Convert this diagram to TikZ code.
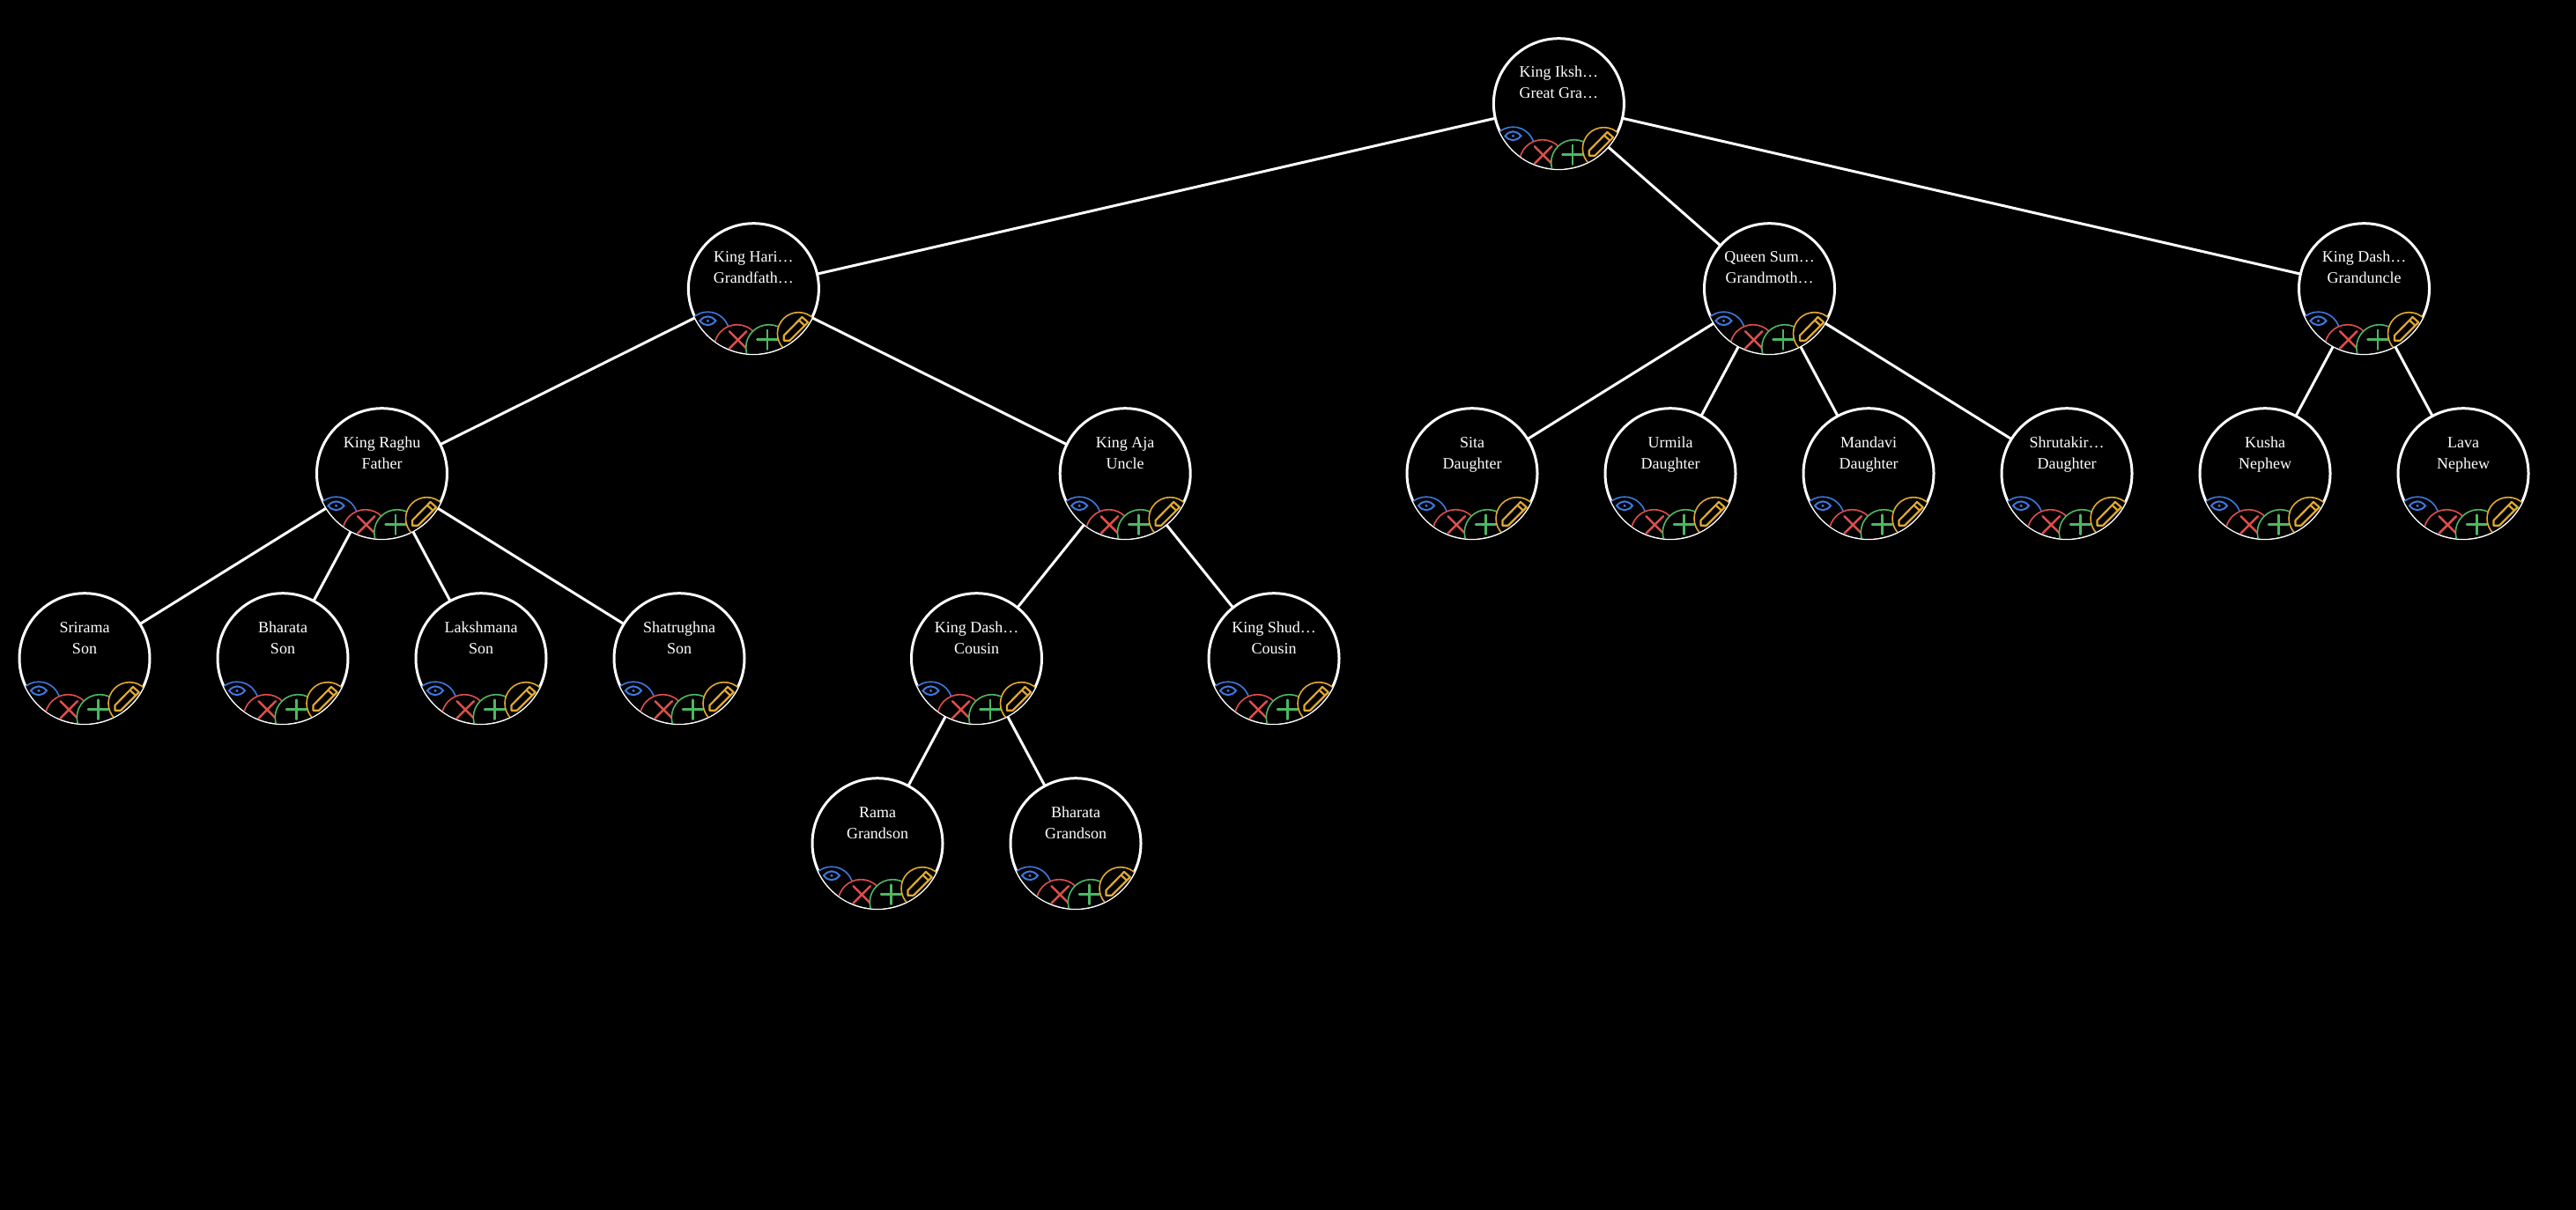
\documentclass[tikz,border=0pt]{standalone}
\usepackage{fontspec}
\setmainfont{Liberation Serif}
\usetikzlibrary{positioning}

\definecolor{eyeblue}{HTML}{3F78E0}
\definecolor{crossred}{HTML}{DE4F4B}
\definecolor{plusgreen}{HTML}{4DB862}
\definecolor{penyellow}{HTML}{E2A92F}

\newcommand{\who}[2]{\strut#1\\\strut#2\\[10.5pt]\strut}

\begin{document}
\begin{tikzpicture}[
    person/.style={circle, draw=white, line width=1.5pt, minimum size=74pt, inner sep=0pt,
                   outer sep=0pt, align=center, text=white,
                   font=\fontsize{9pt}{12pt}\selectfont},
    link/.style={draw=white, line width=1.5pt},
    tab/.style={fill=black, line width=0.8pt},
    glyph/.style={line width=1.25pt, line cap=round},
    actions/.pic={
        \begin{scope}[x=0.5pt, y=-0.5pt]
            \clip (0,0) circle (74);
            % eye
            \draw[tab, draw=eyeblue] (-52,51) circle (24.5);
            \draw[eyeblue, line width=1pt] (-61,36.6) .. controls (-55.5,30) and (-48.5,30) .. (-43,36.6)
                .. controls (-48.5,43.2) and (-55.5,43.2) .. (-61,36.6) -- cycle;
            \fill[eyeblue] (-52,36.6) circle (1.7);
            % cross
            \draw[tab, draw=crossred] (-18.7,67) circle (26);
            \draw[glyph, crossred] (-27.5,48.5) -- (-8,68);
            \draw[glyph, crossred] (-8,48.5) -- (-27.5,68);
            % plus
            \draw[tab, draw=plusgreen] (17.3,67) circle (26);
            \draw[glyph, plusgreen] (15.4,47) -- (15.4,69);
            \draw[glyph, plusgreen] (4,57.8) -- (27,57.8);
            % pencil
            \draw[tab, draw=penyellow] (51,51) circle (24);
            \draw[penyellow, line width=1.1pt, line join=round] (34.4,53.3) -- (34.4,59) -- (41,59)
                -- (61.7,38.3) -- (55,32.3) -- cycle;
            \draw[penyellow, line width=1.1pt] (51.5,36) -- (58,42);
        \end{scope}
    },
]

    \fill[black] (0,0) rectangle (1462pt,-687pt);

    %==================== ROOT ====================
    \node[person] (root) at (884.7pt,-58.85pt) {\who{King Iksh…}{Great Gra…}};

    %==================== SECOND ROW ====================
    \node[person, below=31pt of root, xshift=-457pt] (hari) {\who{King Hari…}{Grandfath…}};
    \node[person, below=31pt of root, xshift=119.55pt] (sumitra) {\who{Queen Sum…}{Grandmoth…}};
    \node[person, below=31pt of root, xshift=457.05pt] (dashuncle) {\who{King Dash…}{Granduncle}};
    \draw[link] (root) -- (hari);
    \draw[link] (root) -- (sumitra);
    \draw[link] (root) -- (dashuncle);

    %==================== THIRD ROW ====================
    \node[person, below=31pt of hari, xshift=-210.95pt] (raghu) {\who{King Raghu}{Father}};
    \node[person, below=31pt of hari, xshift=210.9pt] (aja) {\who{King Aja}{Uncle}};
    \draw[link] (hari) -- (raghu);
    \draw[link] (hari) -- (aja);

    \node[person, below=31pt of sumitra, xshift=-168.75pt] (sita) {\who{Sita}{Daughter}};
    \node[person, below=31pt of sumitra, xshift=-56.25pt] (urmila) {\who{Urmila}{Daughter}};
    \node[person, below=31pt of sumitra, xshift=56.25pt] (mandavi) {\who{Mandavi}{Daughter}};
    \node[person, below=31pt of sumitra, xshift=168.75pt] (shruta) {\who{Shrutakir…}{Daughter}};
    \draw[link] (sumitra) -- (sita);
    \draw[link] (sumitra) -- (urmila);
    \draw[link] (sumitra) -- (mandavi);
    \draw[link] (sumitra) -- (shruta);

    \node[person, below=31pt of dashuncle, xshift=-56.25pt] (kusha) {\who{Kusha}{Nephew}};
    \node[person, below=31pt of dashuncle, xshift=56.25pt] (lava) {\who{Lava}{Nephew}};
    \draw[link] (dashuncle) -- (kusha);
    \draw[link] (dashuncle) -- (lava);

    %==================== FOURTH ROW ====================
    \node[person, below=31pt of raghu, xshift=-168.75pt] (srirama) {\who{Srirama}{Son}};
    \node[person, below=31pt of raghu, xshift=-56.25pt] (bharatason) {\who{Bharata}{Son}};
    \node[person, below=31pt of raghu, xshift=56.25pt] (lakshmana) {\who{Lakshmana}{Son}};
    \node[person, below=31pt of raghu, xshift=168.75pt] (shatrughna) {\who{Shatrughna}{Son}};
    \draw[link] (raghu) -- (srirama);
    \draw[link] (raghu) -- (bharatason);
    \draw[link] (raghu) -- (lakshmana);
    \draw[link] (raghu) -- (shatrughna);

    \node[person, below=31pt of aja, xshift=-84.35pt] (dasharatha) {\who{King Dash…}{Cousin}};
    \node[person, below=31pt of aja, xshift=84.4pt] (shuddhodana) {\who{King Shud…}{Cousin}};
    \draw[link] (aja) -- (dasharatha);
    \draw[link] (aja) -- (shuddhodana);

    %==================== FIFTH ROW ====================
    \node[person, below=31pt of dasharatha, xshift=-56.25pt] (rama) {\who{Rama}{Grandson}};
    \node[person, below=31pt of dasharatha, xshift=56.25pt] (bharatagrand) {\who{Bharata}{Grandson}};
    \draw[link] (dasharatha) -- (rama);
    \draw[link] (dasharatha) -- (bharatagrand);

    %==================== ICON TABS ====================
    \pic at (root) {actions};
    \pic at (hari) {actions};
    \pic at (sumitra) {actions};
    \pic at (dashuncle) {actions};
    \pic at (raghu) {actions};
    \pic at (aja) {actions};
    \pic at (sita) {actions};
    \pic at (urmila) {actions};
    \pic at (mandavi) {actions};
    \pic at (shruta) {actions};
    \pic at (kusha) {actions};
    \pic at (lava) {actions};
    \pic at (srirama) {actions};
    \pic at (bharatason) {actions};
    \pic at (lakshmana) {actions};
    \pic at (shatrughna) {actions};
    \pic at (dasharatha) {actions};
    \pic at (shuddhodana) {actions};
    \pic at (rama) {actions};
    \pic at (bharatagrand) {actions};

\end{tikzpicture}
\end{document}
